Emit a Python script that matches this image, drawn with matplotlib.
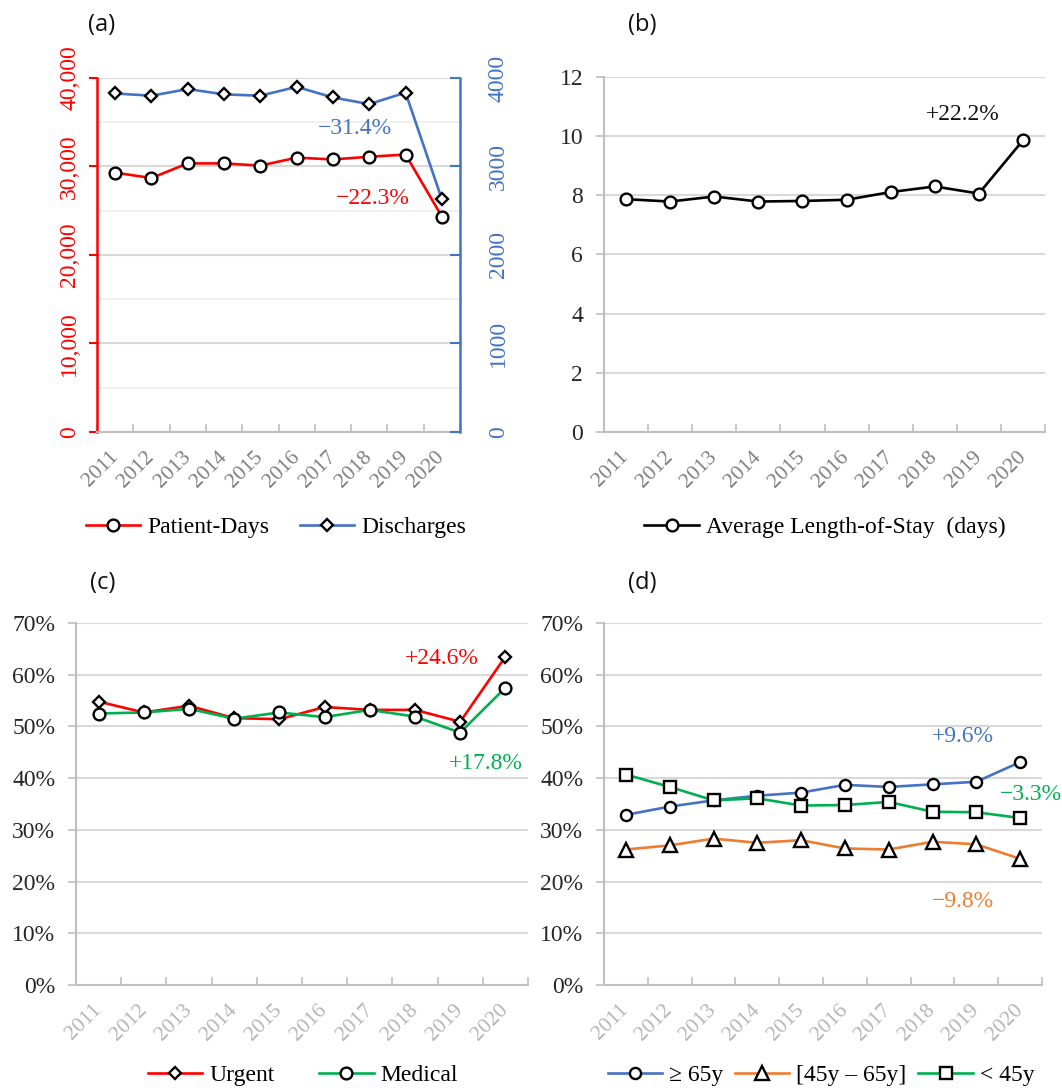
import matplotlib
matplotlib.use("Agg")
import matplotlib.pyplot as plt
from matplotlib.ticker import FuncFormatter, MultipleLocator
import numpy as np

years = ["2011", "2012", "2013", "2014", "2015", "2016", "2017", "2018", "2019", "2020"]
patient_days = [29300, 28700, 30350, 30350, 30100, 31000, 30800, 31100, 31350, 24350]
discharges = [3825, 3800, 3875, 3815, 3800, 3900, 3780, 3705, 3835, 2630]
avg_los = [7.87, 7.79, 7.96, 7.79, 7.81, 7.85, 8.11, 8.30, 8.06, 9.86]
urgent = [54.8, 52.7, 54.0, 51.6, 51.4, 53.75, 53.2, 53.2, 50.9, 63.5]
medical = [52.5, 52.7, 53.4, 51.5, 52.7, 51.8, 53.2, 51.9, 48.8, 57.5]
age_65plus = [32.9, 34.5, 35.7, 36.6, 37.2, 38.7, 38.3, 38.8, 39.3, 43.1]
age_45_65 = [26.2, 27.0, 28.3, 27.5, 28.0, 26.4, 26.2, 27.7, 27.2, 24.4]
age_under45 = [40.7, 38.3, 35.7, 36.1, 34.7, 34.8, 35.4, 33.5, 33.4, 32.3]

RED = "#FF0000"
BLUE = "#4472C4"
GREEN = "#00B050"
ORANGE = "#ED7D31"
GRID = "#D9D9D9"
SPINE = "#BFBFBF"
XLAB = "#7F7F7F"
YLAB = "#262626"

SERIF = ["Liberation Serif", "DejaVu Serif"]
SANS = ["Open Sans", "DejaVu Sans"]
FS = 17

W, H = 1062, 1088
fig = plt.figure(figsize=(W / 100, H / 100), dpi=100)

def rect(l, r, t, b):
    return [l / W, 1 - b / H, (r - l) / W, (b - t) / H]

x = np.arange(len(years)) + 0.5
mk = dict(markerfacecolor="white", markeredgecolor="black", markeredgewidth=1.7)
LW = 1.9

def style_x(ax, labcol=XLAB):
    ax.set_xlim(0, len(years))
    ax.set_xticks(x)
    ax.set_xticklabels(years, rotation=45, ha="right", va="center",
                       rotation_mode="anchor", color=labcol, fontsize=15.5, family=SERIF)
    ax.tick_params(axis="x", which="major", length=0, pad=16)
    ax.set_xticks(np.arange(0, len(years) + 1), minor=True)
    ax.tick_params(axis="x", which="minor", direction="in", length=6, color=SPINE, width=1.2)
    ax.spines["bottom"].set_color(SPINE)
    ax.spines["bottom"].set_linewidth(1.5)
    ax.spines["top"].set_visible(False)
    ax.set_axisbelow(True)

def style_y(ax, lo, hi, step, fmt):
    ax.set_ylim(lo, hi)
    ax.yaxis.set_major_locator(MultipleLocator(step))
    ax.yaxis.set_major_formatter(FuncFormatter(fmt))
    ax.grid(axis="y", color=GRID, linewidth=1.5)
    ax.spines["left"].set_color(SPINE)
    ax.spines["left"].set_linewidth(1.5)
    ax.spines["right"].set_visible(False)
    ax.tick_params(axis="y", length=6, color=SPINE, width=1.2, labelsize=FS, labelcolor=YLAB, pad=9)
    for t in ax.get_yticklabels():
        t.set_family(SERIF)

def panel_label(txt, px, py):
    fig.text(px / W, 1 - py / H, txt, fontsize=17, family=SANS, ha="left", va="center", color="#111111")

def legend(ax, cx, cy, ncol, colsp=2.0, handles=None):
    kw = dict(loc="center", bbox_to_anchor=(cx / W, 1 - cy / H), bbox_transform=fig.transFigure,
              ncol=ncol, frameon=False, handlelength=2.3, handletextpad=0.3, columnspacing=colsp,
              prop={"family": SERIF, "size": FS})
    if handles is not None:
        return ax.legend(handles=handles, **kw)
    return ax.legend(**kw)

def annot(ax, xx, yy, txt, col):
    ax.text(xx, yy, txt, color=col, fontsize=FS, family=SERIF, ha="center", va="center")

# ---------- (a) ----------
ax1 = fig.add_axes(rect(97, 460, 78, 432))
style_x(ax1)
ax1.set_ylim(0, 40000)
ax1.yaxis.set_major_locator(MultipleLocator(10000))
ax1.yaxis.set_minor_locator(MultipleLocator(5000))
ax1.yaxis.set_major_formatter(FuncFormatter(lambda v, p: f"{int(v):,}"))
ax1.grid(axis="y", which="major", color=GRID, linewidth=1.5)
ax1.grid(axis="y", which="minor", color="#EDEDED", linewidth=1.2)
ax1.spines["left"].set_color(RED)
ax1.spines["left"].set_linewidth(1.8)
ax1.spines["right"].set_visible(False)
ax1.tick_params(axis="y", which="major", length=6, color=RED, width=1.5, labelsize=FS, labelcolor=RED, pad=6)
ax1.tick_params(axis="y", which="minor", length=0)
for t in ax1.get_yticklabels():
    t.set_family(SERIF); t.set_rotation(90); t.set_va("center")
l1, = ax1.plot(x, patient_days, color=RED, lw=LW, marker="o", markersize=8.5, label="Patient-Days", **mk)

ax2 = ax1.twinx()
ax2.set_ylim(0, 4000)
ax2.yaxis.set_major_locator(MultipleLocator(1000))
ax2.spines["right"].set_color(BLUE)
ax2.spines["right"].set_linewidth(1.8)
for s in ("left", "top", "bottom"):
    ax2.spines[s].set_visible(False)
ax2.tick_params(axis="y", direction="in", length=7, color=BLUE, width=1.5, labelsize=FS,
                labelcolor=BLUE, pad=20)
for t in ax2.get_yticklabels():
    t.set_family(SERIF); t.set_rotation(90); t.set_va("center")
l2, = ax2.plot(x, discharges, color=BLUE, lw=LW, marker="D", markersize=6, label="Discharges", **mk)
annot(ax1, 7.1, 34350, "\u221231.4%", BLUE)
annot(ax1, 7.6, 26440, "\u221222.3%", RED)
legend(ax1, 276, 527, 2, colsp=1.3, handles=[l1, l2])
panel_label("(a)", 88, 25)

# ---------- (b) ----------
axb = fig.add_axes(rect(604, 1045, 77, 432))
style_x(axb)
style_y(axb, 0, 12, 2, lambda v, p: f"{int(v)}")
axb.plot(x, avg_los, color="black", lw=LW, marker="o", markersize=8.5,
         label="Average Length-of-Stay  (days)", **mk)
annot(axb, 8.14, 10.72, "+22.2%", "#111111")
legend(axb, 825, 527, 1)
panel_label("(b)", 628, 25)

# ---------- (c) ----------
axc = fig.add_axes(rect(76, 528, 623, 985))
style_x(axc, labcol="#B5B5B5")
style_y(axc, 0, 70, 10, lambda v, p: f"{int(round(v))}%")
axc.plot(x, urgent, color=RED, lw=LW, marker="D", markersize=6, label="Urgent", **mk)
axc.plot(x, medical, color=GREEN, lw=LW, marker="o", markersize=8.5, label="Medical", **mk)
annot(axc, 8.1, 63.2, "+24.6%", RED)
annot(axc, 9.07, 42.9, "+17.8%", GREEN)
legend(axc, 303, 1075, 2, colsp=1.9)
panel_label("(c)", 90, 583)

# ---------- (d) ----------
axd = fig.add_axes(rect(604, 1042, 623, 985))
style_x(axd, labcol="#B5B5B5")
style_y(axd, 0, 70, 10, lambda v, p: f"{int(round(v))}%")
axd.plot(x, age_65plus, color=BLUE, lw=LW, marker="o", markersize=8, label="\u2265 65y", **mk)
axd.plot(x, age_45_65, color=ORANGE, lw=LW, marker="^", markersize=9.5, label="[45y \u2013 65y]", **mk)
axd.plot(x, age_under45, color=GREEN, lw=LW, marker="s", markersize=8, label="< 45y", **mk)
annot(axd, 8.2, 48.0, "+9.6%", BLUE)
annot(axd, 9.75, 36.9, "\u22123.3%", GREEN)
annot(axd, 8.2, 16.2, "\u22129.8%", ORANGE)
legend(axd, 821, 1075, 3, colsp=0.5)
panel_label("(d)", 628, 583)

fig.savefig("out.png", dpi=100)
